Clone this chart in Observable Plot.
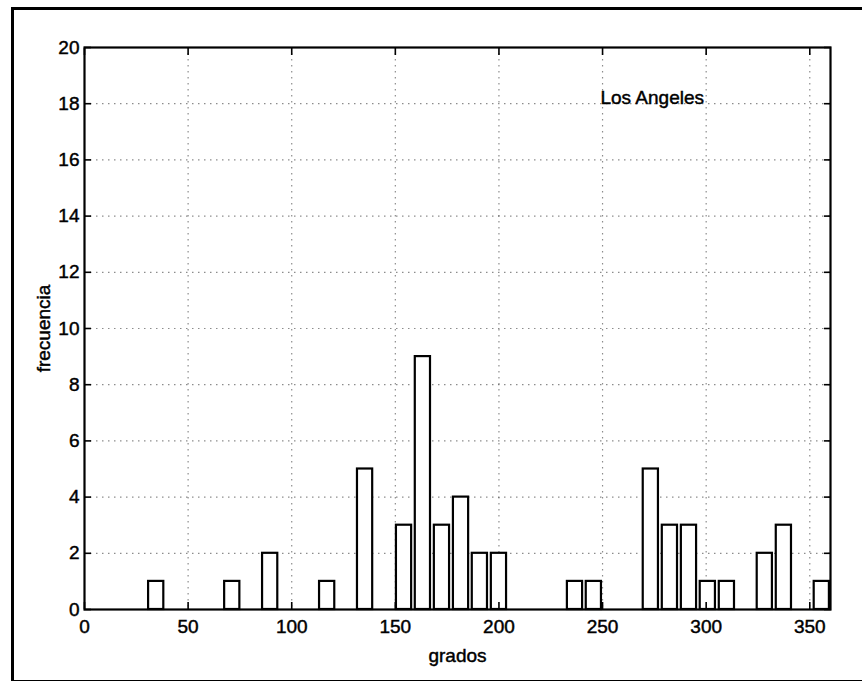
<!DOCTYPE html>
<html>
<head>
<meta charset="utf-8">
<script src="https://cdn.jsdelivr.net/npm/d3@7"></script>
<script src="https://cdn.jsdelivr.net/npm/@observablehq/plot@0.6"></script>
<style>
  html, body { margin: 0; padding: 0; background: #fff; overflow: hidden; }
  #wrap { position: relative; width: 862px; height: 681px; }
  #border {
    position: absolute; left: 11px; top: 7px; width: 870px; height: 670px;
    border-left: 3px solid #000; border-top: 3px solid #000; border-bottom: 3px solid #000;
    pointer-events: none;
  }
  /* slightly heavier lettering */
  #wrap svg text { stroke: #000; stroke-width: 0.45px; }
</style>
</head>
<body>
<div id="wrap"><div id="border"></div></div>
<script>
// Wind direction histogram (degrees), Los Angeles
const binCenters = [34.6, 71.3, 89.6, 117.1, 135.4, 154.2, 163.3, 172.5, 181.7, 190.8, 200.0,
                    236.7, 245.8, 273.3, 282.5, 291.7, 300.8, 310.0, 328.3, 337.5, 355.8];
const counts     = [1, 1, 2, 1, 5, 3, 9, 3, 4, 2, 2,
                    1, 1, 5, 3, 3, 1, 1, 2, 3, 1];
const xTicks = [0, 50, 100, 150, 200, 250, 300, 350];
const yTicks = [0, 2, 4, 6, 8, 10, 12, 14, 16, 18, 20];
const stationName = "Los Angeles";
const xTitle = "grados";
const yTitle = "frecuencia";

const bars = binCenters.map((c, i) => ({center: c, count: counts[i]}));
const halfBar = 3.67; // bar is 80% of the 9.17° bin

const font = "'Liberation Sans', Arial, Helvetica, sans-serif";
const fs = 19;

const chart = Plot.plot({
  width: 862,
  height: 681,
  marginLeft: 84,
  marginRight: 32,
  marginTop: 47,
  marginBottom: 72,
  style: {fontFamily: font, fontSize: fs + "px", background: "white", color: "#000"},
  x: {domain: [0, 360], label: null},
  y: {domain: [0, 20], label: null},
  marks: [
    // dotted grid
    Plot.gridX({ticks: xTicks.filter(t => t > 0), stroke: "#000", strokeOpacity: 0.45, strokeWidth: 1.2, strokeDasharray: "1.5,4.5"}),
    Plot.gridY({ticks: yTicks.filter(t => t > 0 && t < 20), stroke: "#000", strokeOpacity: 0.45, strokeWidth: 1.2, strokeDasharray: "1.5,4.5"}),
    // histogram bars
    Plot.rectY(bars, {
      x1: d => d.center - halfBar,
      x2: d => d.center + halfBar,
      y1: 0,
      y2: "count",
      fill: "white",
      stroke: "#000",
      strokeWidth: 2.2
    }),
    // box
    Plot.frame({stroke: "#000", strokeWidth: 2.2}),
    // inward ticks on all four sides
    Plot.axisX({anchor: "bottom", ticks: xTicks, tickSize: -7, tickFormat: () => "", strokeWidth: 1.6}),
    Plot.axisX({anchor: "top", ticks: xTicks, tickSize: -7, tickFormat: () => "", strokeWidth: 1.6}),
    Plot.axisY({anchor: "left", ticks: yTicks, tickSize: -7, tickFormat: () => "", strokeWidth: 1.6}),
    Plot.axisY({anchor: "right", ticks: yTicks, tickSize: -7, tickFormat: () => "", strokeWidth: 1.6}),
    // tick labels and titles
    Plot.axisX({anchor: "bottom", ticks: xTicks, tickSize: 0, tickPadding: 10, fontSize: fs,
      label: xTitle, labelArrow: "none", labelAnchor: "center", labelOffset: 52}),
    Plot.axisY({anchor: "left", ticks: yTicks, tickSize: 0, tickPadding: 5, fontSize: fs,
      label: yTitle, labelArrow: "none", labelAnchor: "center", labelOffset: 48}),
    // station name
    Plot.text([stationName], {x: () => 249, y: () => 18.2, text: d => d, textAnchor: "start", fontSize: fs, fill: "#000"})
  ]
});

document.getElementById("wrap").prepend(chart);
</script>
</body>
</html>
